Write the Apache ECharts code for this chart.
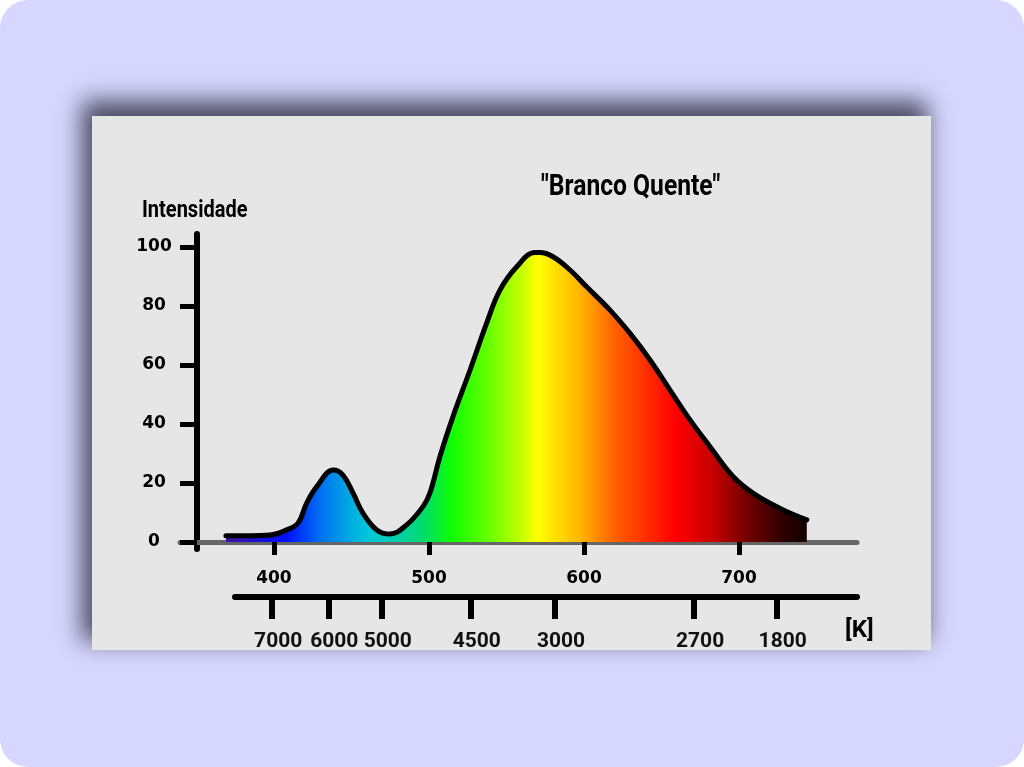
<!DOCTYPE html>
<html>
<head>
<meta charset="utf-8">
<title>Branco Quente</title>
<script src="https://cdn.jsdelivr.net/npm/echarts@6/dist/echarts.min.js"></script>
<style>
  html, body { margin: 0; padding: 0; background: #fff; }
  #bg {
    position: relative; width: 1024px; height: 767px; overflow: hidden;
    background: #d6d6fe; border-radius: 28px;
  }
  #panel {
    position: absolute; left: 92px; top: 116px; width: 839px; height: 534px;
    background: #e6e6e6;
    box-shadow: -7px -12px 22px 3px rgba(60, 60, 80, 0.9);
  }
  #chart { position: absolute; left: 0; top: 0; width: 1024px; height: 767px; }
</style>
</head>
<body>
<div id="bg">
  <div id="panel"></div>
  <div id="chart"></div>
</div>
<script>
// ── Data ─────────────────────────────────────────────────────────────────────

// wavelength (nm) and relative intensity
const wavelengths = [
  369.0, 397.4, 408.2, 415.5, 421.1, 427.5, 438.3, 444.5, 451.0, 457.4,
  466.3, 474.8, 485.6, 496.1, 500.6, 507.1, 515.5, 526.5, 537.2, 545.8,
  556.6, 568.4, 571.6, 580.0, 591.0, 601.7, 616.8, 629.7, 642.6, 655.5,
  668.4, 681.3, 696.3, 709.2, 726.5, 743.7,
];
const intensity = [
  2.1, 2.4, 4.1, 6.4, 13.2, 18.7, 24.4, 22.7, 16.6, 9.8,
  4.1, 2.7, 5.8, 12.0, 16.6, 29.0, 42.5, 58.3, 74.2, 85.4,
  93.3, 98.1, 98.1, 96.7, 92.2, 86.5, 78.6, 70.7, 61.7, 51.5,
  41.4, 32.3, 22.1, 16.5, 11.4, 7.5,
];

const waveTicks = [400, 500, 600, 700];
const intensityTicks = [0, 20, 40, 60, 80, 100];

// colour temperature scale: labels and the wavelength they sit under
const kelvinLabels = ['7000', '6000', '5000', '4500', '3000', '2700', '1800'];
const kelvinAt = [398.8, 435.0, 469.5, 526.9, 581.3, 671.0, 724.3];

// spectrum fill colours by wavelength
const spectrumAt = [369, 408, 430, 451, 462, 483, 499, 515, 537, 559, 570, 599, 620, 659, 685, 706, 728, 743.7];
const spectrumColors = [
  '#4010a0', '#0010ff', '#0070f0', '#00b0e0', '#00c8d8', '#00d0a0', '#00e060', '#10ff00', '#60ff00',
  '#c0ff00', '#ffff00', '#ffb000', '#ff6000', '#ff0000', '#c00000', '#700000', '#300000', '#100000',
];

// ── Chart ────────────────────────────────────────────────────────────────────

const chart = echarts.init(document.getElementById('chart'), null, { renderer: 'canvas' });

const lo = wavelengths[0];
const hi = wavelengths[wavelengths.length - 1];
const fill = new echarts.graphic.LinearGradient(0, 0, 1, 0,
  spectrumAt.map((w, i) => ({ offset: Math.min(1, Math.max(0, (w - lo) / (hi - lo))), color: spectrumColors[i] })));

const numFont = { fontFamily: 'DejaVu Sans', fontWeight: 'bold', fontSize: 17, color: '#000' };
const textFont = { fontFamily: 'Roboto', fontWeight: 'bold', fill: '#000' };

chart.setOption({
  backgroundColor: 'transparent',
  animation: false,
  grid: [
    { left: 180, right: 167, top: 234, bottom: 218, outerBoundsMode: 'none' },
    { left: 235, right: 167, top: 567, bottom: 170, outerBoundsMode: 'none' },
  ],
  xAxis: [
    {
      type: 'value', gridIndex: 0, min: 339.4, max: 776.1,
      axisLine: { onZero: true, lineStyle: { color: '#666', width: 5 } },
      axisTick: { show: true, customValues: waveTicks, length: 13, lineStyle: { color: '#000', width: 5 } },
      axisLabel: { customValues: waveTicks, margin: 21, ...numFont },
      splitLine: { show: false },
    },
    {
      type: 'value', gridIndex: 1, min: 374.8, max: 776.1,
      axisLine: { lineStyle: { color: '#000', width: 6 } },
      axisTick: { show: true, customValues: kelvinAt, length: 22, lineStyle: { color: '#000', width: 6 } },
      axisLabel: {
        customValues: kelvinAt, margin: 34,
        fontFamily: 'Roboto', fontWeight: 'bold', fontSize: 21, color: '#111',
        padding: [0, 0, 0, 12],
        formatter: v => kelvinLabels[kelvinAt.indexOf(v)] ?? '',
      },
      splitLine: { show: false },
    },
  ],
  yAxis: [
    {
      type: 'value', gridIndex: 0, min: -2.37, max: 104.4, offset: -17,
      axisLine: { show: true, onZero: false, lineStyle: { color: '#000', width: 6 } },
      axisTick: { show: true, customValues: intensityTicks, length: 17, lineStyle: { color: '#000', width: 5 } },
      axisLabel: { customValues: intensityTicks, margin: 43, align: 'center', ...numFont },
      splitLine: { show: false },
    },
    { type: 'value', gridIndex: 1, min: 0, max: 1, show: false },
  ],
  series: [{
    type: 'line',
    xAxisIndex: 0, yAxisIndex: 0,
    data: wavelengths.map((w, i) => [w, intensity[i]]),
    smooth: 0.4,
    showSymbol: false,
    lineStyle: { color: '#000', width: 5, join: 'round', cap: 'round' },
    areaStyle: { color: fill, opacity: 1, origin: 0 },
    z: 1,
  }],
  graphic: [
    { type: 'text', left: 142, top: 200, scaleX: 0.87,
      style: { text: 'Intensidade', fontSize: 23, ...textFont } },
    { type: 'text', left: 541, top: 173, scaleX: 0.85,
      style: { text: '"Branco Quente"', fontSize: 29, ...textFont } },
    { type: 'text', left: 845, top: 619,
      style: { text: '[K]', fontSize: 24, ...textFont } },
  ],
});
</script>
</body>
</html>
